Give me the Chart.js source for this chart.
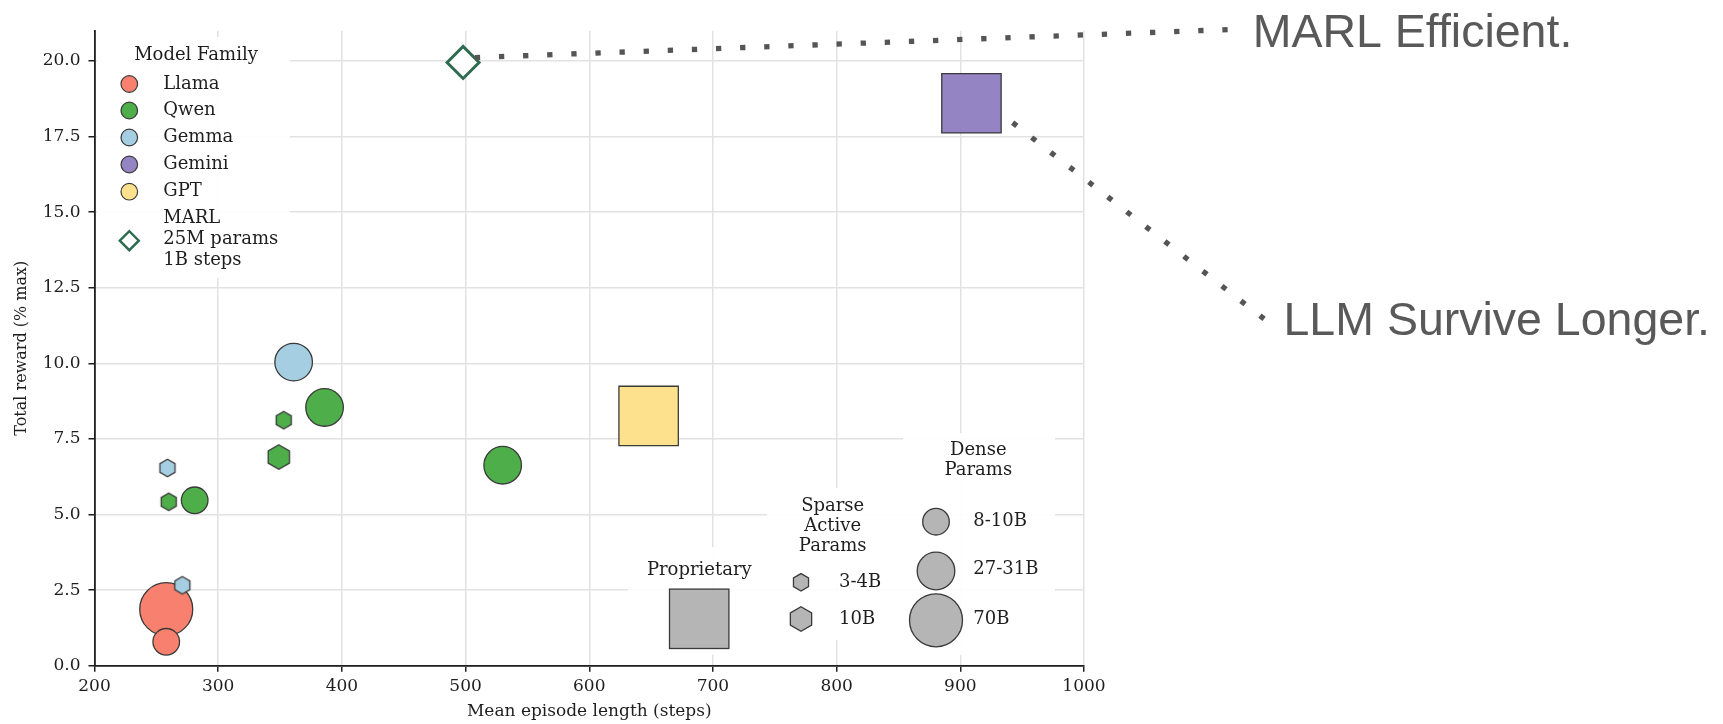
<!DOCTYPE html>
<html>
<head>
<meta charset="utf-8">
<script src="https://cdn.jsdelivr.net/npm/chart.js@4.4.1/dist/chart.umd.min.js"></script>
<style>
  html, body { margin: 0; padding: 0; background: #ffffff; }
  #wrap { width: 1723px; height: 724px; position: relative; }
</style>
</head>
<body>
<div id="wrap"><canvas id="chart"></canvas></div>
<script>
// ---- data ----
const families = ['Llama', 'Qwen', 'Gemma', 'Gemini', 'GPT'];
const pointFamily = ['Llama', 'Llama', 'Qwen', 'Qwen', 'Qwen', 'Qwen', 'Qwen', 'Qwen', 'Gemma', 'Gemma', 'Gemma', 'Gemini', 'GPT'];
const paramClass = ['70B', '8-10B', '27-31B', '27-31B', '8-10B', '3-4B', '10B', '3-4B', '27-31B', '3-4B', '3-4B', 'Proprietary', 'Proprietary'];
const episodeLength = [258, 258, 386, 530, 281, 353, 349, 260, 361, 259, 271, 909, 648];
const totalReward = [1.87, 0.79, 8.54, 6.63, 5.47, 8.12, 6.90, 5.42, 10.04, 6.54, 2.66, 18.6, 8.26];
const marlLength = [498];
const marlReward = [19.95];
const marlLabel = ['MARL', '25M params', '1B steps'];
const denseClasses = ['8-10B', '27-31B', '70B'];
const sparseClasses = ['3-4B', '10B'];
const xLimits = [200, 1000];
const yLimits = [0, 21];
const xStep = 100;
const yStep = 2.5;

// ---- styles ----
const familyColor = {
  Llama: '#f8806f', Qwen: '#4dae4a', Gemma: '#a6cee3', Gemini: '#9584c4', GPT: '#fee18d'
};
const neutralFill = '#b5b5b5';
const edgeColor = '#3a3a3a';
const marlEdge = '#2f6b50';
const serif = '"DejaVu Serif", serif';
const markerRadius = {
  '8-10B': 13.3, '27-31B': 18.8, '70B': 26.5,
  '3-4B': 8.7, '10B': 12.3, 'Proprietary': 29.7
};
const hexClasses = new Set(['3-4B', '10B']);

// hexagon (pointy top) path
function hexPath(ctx, cx, cy, r) {
  ctx.beginPath();
  for (let k = 0; k < 6; k++) {
    const a = -Math.PI / 2 + k * Math.PI / 3;
    const px = cx + r * Math.cos(a), py = cy + r * Math.sin(a);
    if (k === 0) ctx.moveTo(px, py); else ctx.lineTo(px, py);
  }
  ctx.closePath();
}

const hexCache = {};
function hexImage(r, fill) {
  const key = r + fill;
  if (hexCache[key]) return hexCache[key];
  const lw = 1.3;
  const s = Math.ceil(2 * r + 2 * lw + 2);
  const c = document.createElement('canvas');
  c.width = s; c.height = s;
  const g = c.getContext('2d');
  hexPath(g, s / 2, s / 2, r);
  g.fillStyle = fill; g.fill();
  g.lineWidth = lw; g.strokeStyle = edgeColor; g.stroke();
  hexCache[key] = c;
  return c;
}

function styleFor(cls, fill) {
  if (hexClasses.has(cls)) return hexImage(markerRadius[cls], fill);
  if (cls === 'Proprietary') return 'rect';
  return 'circle';
}
function radiusFor(cls) {
  if (cls === 'Proprietary') return markerRadius[cls] / Math.SQRT1_2;
  return markerRadius[cls];
}

const drawOrder = { Llama: 6, Qwen: 5, Gemma: 4, Gemini: 3, GPT: 2 };

const datasets = families.map(f => {
  const pts = [];
  pointFamily.forEach((fam, i) => {
    if (fam === f) pts.push({ x: episodeLength[i], y: totalReward[i], cls: paramClass[i] });
  });
  return {
    label: f,
    data: pts,
    order: drawOrder[f],
    showLine: false,
    pointStyle: ctx => styleFor(ctx.raw.cls, familyColor[f]),
    pointRadius: ctx => radiusFor(ctx.raw.cls),
    pointBackgroundColor: familyColor[f],
    pointBorderColor: edgeColor,
    pointBorderWidth: 1.3
  };
});
datasets.push({
  label: 'MARL',
  data: marlLength.map((x, i) => ({ x, y: marlReward[i] })),
  order: 1,
  showLine: false,
  pointStyle: 'rectRot',
  pointRadius: 16,
  pointBackgroundColor: '#ffffff',
  pointBorderColor: marlEdge,
  pointBorderWidth: 3
});

// ---- legend panels and call-outs ----
function circle(ctx, x, y, r, fill, stroke, lw) {
  ctx.beginPath(); ctx.arc(x, y, r, 0, Math.PI * 2);
  ctx.fillStyle = fill; ctx.fill();
  ctx.lineWidth = lw; ctx.strokeStyle = stroke; ctx.stroke();
}
// evenly spaced square dots from (x0,y0) to (x1,y1)
function dotted(ctx, x0, y0, x1, y1) {
  const dx = x1 - x0, dy = y1 - y0;
  const len = Math.hypot(dx, dy);
  const n = Math.max(1, Math.round(len / 24.1));
  const ang = Math.atan2(dy, dx);
  const d = 5.3;
  ctx.save();
  ctx.fillStyle = '#555555';
  for (let i = 0; i <= n; i++) {
    ctx.save();
    ctx.translate(x0 + dx * i / n, y0 + dy * i / n);
    ctx.rotate(ang);
    ctx.fillRect(-d / 2, -d / 2, d, d);
    ctx.restore();
  }
  ctx.restore();
}

const overlay = {
  id: 'overlay',
  beforeDatasetsDraw(chart) {
    const ctx = chart.ctx;
    ctx.save();
    ctx.fillStyle = 'rgba(255,255,255,0.92)';
    ctx.fillRect(97, 37, 193, 241);     // family legend
    ctx.fillRect(628, 547, 139, 108);   // proprietary
    ctx.fillRect(767, 488, 136, 152);   // sparse
    ctx.fillRect(903, 433, 152, 222);   // dense
    ctx.restore();
  },
  afterDatasetsDraw(chart) {
    const ctx = chart.ctx;
    const sx = chart.scales.x, sy = chart.scales.y;
    ctx.save();
    ctx.fillStyle = '#1e1e1e';
    ctx.font = '18px ' + serif;
    ctx.textBaseline = 'middle';

    // model family legend
    ctx.textAlign = 'center';
    ctx.fillText('Model Family', 196, 55.5);
    ctx.textAlign = 'left';
    const rows = [84, 110.5, 137.5, 164.5, 191.7];
    families.forEach((f, i) => {
      circle(ctx, 129.3, rows[i], 8.3, familyColor[f], edgeColor, 1.2);
      ctx.fillStyle = '#1e1e1e';
      ctx.fillText(f, 163.3, rows[i]);
    });
    marlLabel.forEach((t, i) => ctx.fillText(t, 163.3, 218.3 + i * 21));
    ctx.beginPath();
    ctx.moveTo(129.3 - 9.5, 240.7); ctx.lineTo(129.3, 231.2);
    ctx.lineTo(129.3 + 9.5, 240.7); ctx.lineTo(129.3, 250.2); ctx.closePath();
    ctx.fillStyle = '#ffffff'; ctx.fill();
    ctx.lineWidth = 2.4; ctx.strokeStyle = marlEdge; ctx.stroke();

    // proprietary
    ctx.fillStyle = '#1e1e1e';
    ctx.textAlign = 'center';
    ctx.fillText('Proprietary', 699.3, 570.7);
    const h = markerRadius['Proprietary'];
    ctx.fillStyle = neutralFill;
    ctx.fillRect(699.2 - h, 618.8 - h, 2 * h, 2 * h);
    ctx.lineWidth = 1.3; ctx.strokeStyle = edgeColor;
    ctx.strokeRect(699.2 - h, 618.8 - h, 2 * h, 2 * h);

    // sparse active params
    ctx.fillStyle = '#1e1e1e';
    ['Sparse', 'Active', 'Params'].forEach((t, i) => ctx.fillText(t, 832.7, 506 + i * 20.4));
    const hexY = [582.3, 619];
    sparseClasses.forEach((c, i) => {
      hexPath(ctx, 801, hexY[i], markerRadius[c]);
      ctx.fillStyle = neutralFill; ctx.fill();
      ctx.lineWidth = 1.3; ctx.strokeStyle = edgeColor; ctx.stroke();
      ctx.fillStyle = '#1e1e1e'; ctx.textAlign = 'left';
      ctx.fillText(c, 839, hexY[i]);
      ctx.textAlign = 'center';
    });

    // dense params
    ['Dense', 'Params'].forEach((t, i) => ctx.fillText(t, 978.3, 450.7 + i * 20));
    const dotY = [521.7, 571, 620.3];
    const labY = [521.7, 569.3, 619];
    denseClasses.forEach((c, i) => {
      circle(ctx, 936, dotY[i], markerRadius[c], neutralFill, edgeColor, 1.3);
      ctx.fillStyle = '#1e1e1e'; ctx.textAlign = 'left';
      ctx.fillText(c, 973.3, labY[i]);
    });

    // call-outs
    const mx = sx.getPixelForValue(marlLength[0]), my = sy.getPixelForValue(marlReward[0]);
    dotted(ctx, mx + 14.4, my - 5, 1225, 29.7);
    const gi = pointFamily.indexOf('Gemini');
    const gx = sx.getPixelForValue(episodeLength[gi]), gy = sy.getPixelForValue(totalReward[gi]);
    dotted(ctx, gx + 43.3, gy + 21, 1262, 317.3);

    ctx.fillStyle = '#595959';
    ctx.font = '46.5px "Liberation Sans", Arial, sans-serif';
    ctx.textAlign = 'left';
    ctx.textBaseline = 'alphabetic';
    ctx.fillText('MARL Efficient.', 1252.7, 46.7);
    ctx.fillText('LLM Survive Longer.', 1283.5, 335);
    ctx.restore();
  }
};

new Chart(document.getElementById('chart'), {
  type: 'scatter',
  data: { datasets },
  plugins: [overlay],
  options: {
    responsive: true,
    maintainAspectRatio: false,
    devicePixelRatio: 1,
    animation: false,
    events: [],
    layout: { autoPadding: false, padding: { top: 30.7, right: 639, bottom: 0, left: 0 } },
    plugins: { legend: { display: false }, tooltip: { enabled: false } },
    scales: {
      x: {
        type: 'linear',
        min: xLimits[0], max: xLimits[1],
        afterFit: s => { s.height = 58.3; },
        ticks: {
          stepSize: xStep, padding: 5, color: '#1e1e1e',
          font: { family: serif, size: 17 },
          callback: v => String(v)
        },
        grid: { color: '#e2e2e2', lineWidth: 1.5, tickLength: 6, tickColor: '#1e1e1e', tickWidth: 1.5 },
        border: { color: '#1e1e1e', width: 1.8 },
        title: {
          display: true, text: 'Mean episode length (steps)', color: '#1e1e1e',
          font: { family: serif, size: 17 }, padding: { top: 0, bottom: 2 }
        }
      },
      y: {
        type: 'linear',
        min: yLimits[0], max: yLimits[1],
        afterFit: s => { s.width = 94.5; },
        ticks: {
          stepSize: yStep, includeBounds: false, padding: 8, color: '#1e1e1e',
          font: { family: serif, size: 17 },
          callback: v => v.toFixed(1)
        },
        grid: { color: '#e2e2e2', lineWidth: 1.5, tickLength: 6, tickColor: '#1e1e1e', tickWidth: 1.5 },
        border: { color: '#1e1e1e', width: 1.8 },
        title: {
          display: true, text: 'Total reward (% max)', color: '#1e1e1e',
          font: { family: serif, size: 16 }, padding: { top: 12, bottom: 0 }
        }
      }
    }
  }
});
</script>
</body>
</html>
